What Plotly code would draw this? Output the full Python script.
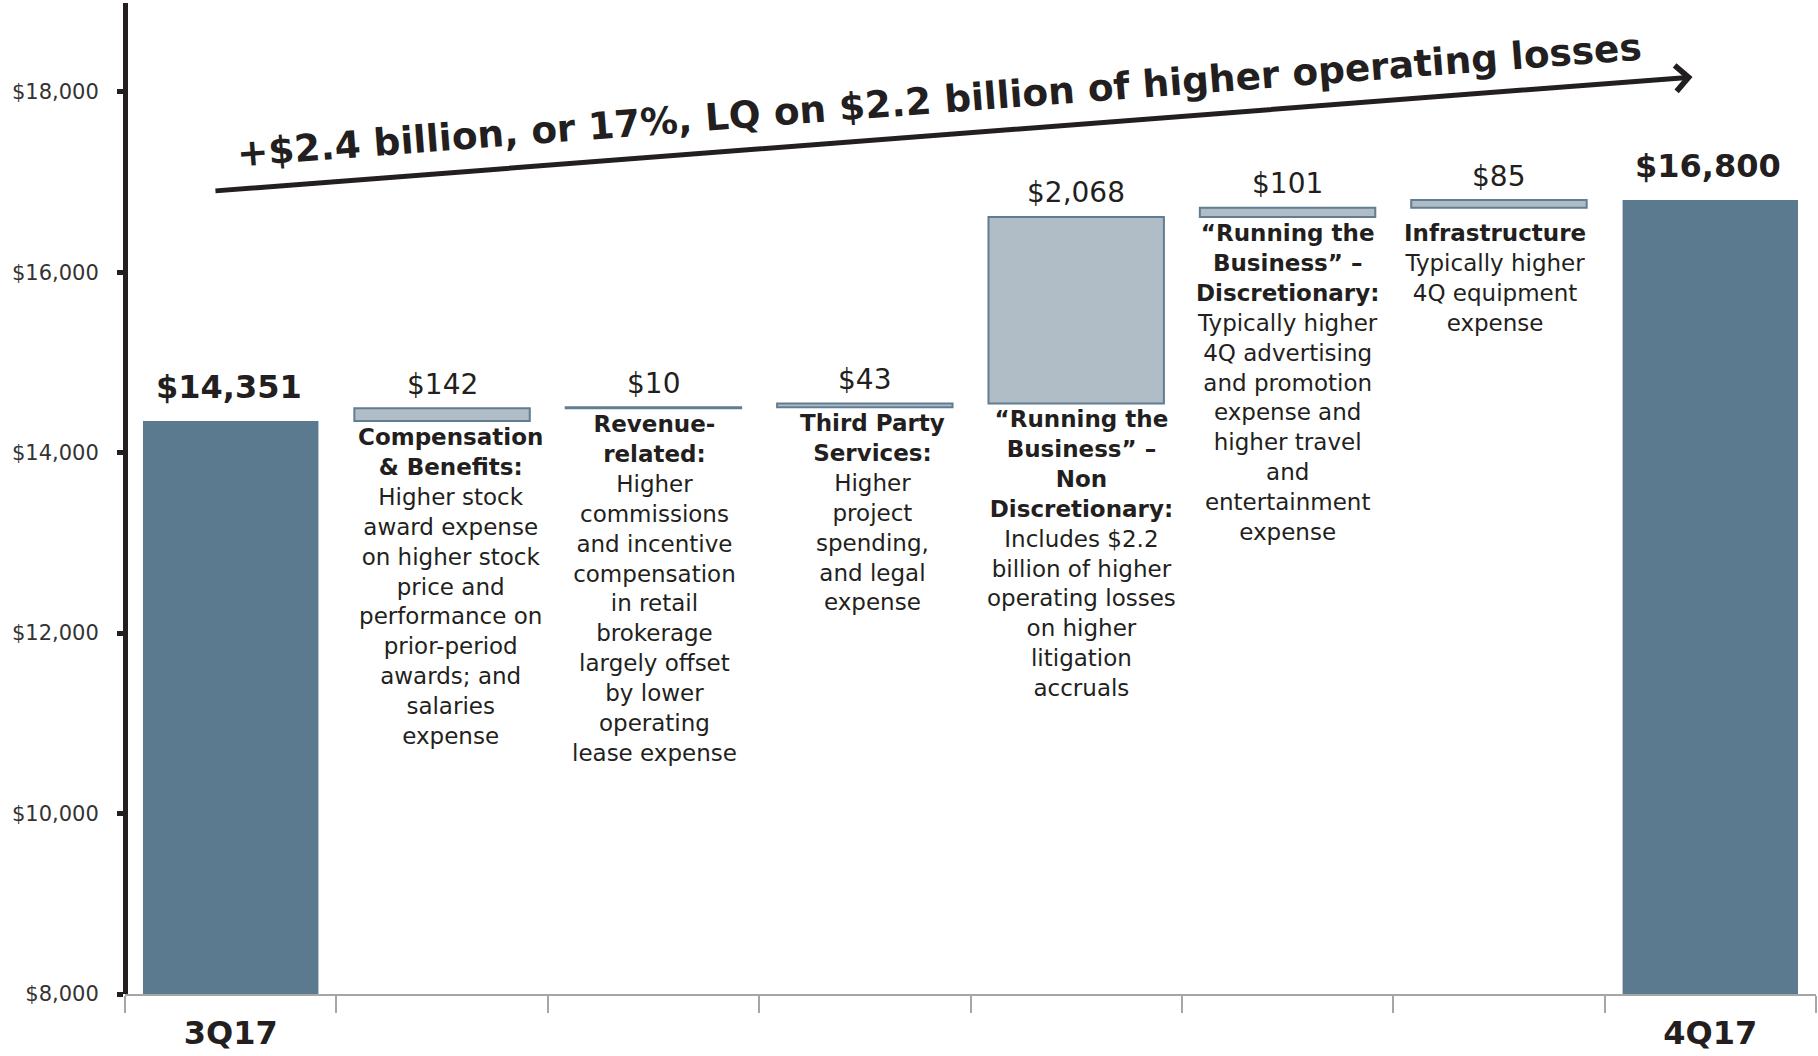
import plotly.graph_objects as go

# Quarter-over-quarter expense bridge, $ in millions
categories = [
    "3Q17",
    "Compensation & Benefits",
    "Revenue-related",
    "Third Party Services",
    "Running the Business - Non Discretionary",
    "Running the Business - Discretionary",
    "Infrastructure",
    "4Q17",
]
tick_labels = ["3Q17", "", "", "", "", "", "", "4Q17"]
start_value = 14351
changes = [142, 10, 43, 2068, 101, 85]

descriptions = [
    "<b>Compensation<br>&amp; Benefits:</b><br>Higher stock<br>award expense<br>on higher stock<br>price and<br>"
    "performance on<br>prior-period<br>awards; and<br>salaries<br>expense",
    "<b>Revenue-<br>related:</b><br>Higher<br>commissions<br>and incentive<br>compensation<br>in retail<br>"
    "brokerage<br>largely offset<br>by lower<br>operating<br>lease expense",
    "<b>Third Party<br>Services:</b><br>Higher<br>project<br>spending,<br>and legal<br>expense",
    "<b>“Running the<br>Business” –<br>Non<br>Discretionary:</b><br>Includes $2.2<br>billion of higher<br>"
    "operating losses<br>on higher<br>litigation<br>accruals",
    "<b>“Running the<br>Business” –<br>Discretionary:</b><br>Typically higher<br>4Q advertising<br>"
    "and promotion<br>expense and<br>higher travel<br>and<br>entertainment<br>expense",
    "<b>Infrastructure</b><br>Typically higher<br>4Q equipment<br>expense",
]
headline = "+$2.4 billion, or 17%, LQ on $2.2 billion of higher operating losses"

# styling
TEXT = "#231f20"
DARK = "#5c7a8f"
LIGHT = "#b0bdc7"
EDGE = "#607d91"
FONT = "DejaVu Sans"
desc_xshift = [8, 1, 8, 5, 0, -4]
desc_yshift = [0, 0, 0, 0, 0, -9]

y_values = [start_value] + changes + [0]
measures = ["absolute"] + ["relative"] * len(changes) + ["total"]

fig = go.Figure(
    go.Waterfall(
        x=categories,
        y=y_values,
        measure=measures,
        connector=dict(visible=False),
        increasing=dict(marker=dict(color=LIGHT, line=dict(color=EDGE, width=2))),
        totals=dict(marker=dict(color=DARK, line=dict(color=DARK, width=0))),
        hoverinfo="skip",
        textinfo="none",
    )
)

annotations = []

# running totals for label placement
running = [start_value]
for c in changes:
    running.append(running[-1] + c)
end_value = running[-1]

# total labels
for cat, val in ((categories[0], start_value), (categories[-1], end_value)):
    annotations.append(dict(
        x=cat, y=val, xref="x", yref="y", text=f"<b>${val:,.0f}</b>",
        showarrow=False, yanchor="middle", yshift=34, xshift=-2,
        font=dict(family=FONT, size=32, color=TEXT),
    ))

# change labels and descriptions
for i, c in enumerate(changes):
    cat = categories[i + 1]
    base = running[i]
    top = running[i + 1]
    annotations.append(dict(
        x=cat, y=top, xref="x", yref="y", text=f"${c:,.0f}",
        showarrow=False, yanchor="middle", yshift=24,
        font=dict(family=FONT, size=28, color=TEXT),
    ))
    annotations.append(dict(
        x=cat, y=base, xref="x", yref="y", text=descriptions[i],
        showarrow=False, yanchor="top", xanchor="center", align="center",
        xshift=desc_xshift[i], yshift=desc_yshift[i] - 1,
        font=dict(family=FONT, size=23, color=TEXT),
    ))

# headline arrow
annotations.append(dict(
    xref="x domain", yref="y domain", axref="x domain", ayref="y domain",
    x=0.9270, y=0.9253, ax=0.0526, ay=0.8103,
    text="", showarrow=True, arrowhead=4, arrowsize=1.0, arrowwidth=5,
    arrowcolor=TEXT, standoff=0,
))
annotations.append(dict(
    xref="x domain", yref="y domain", x=0.4815, y=0.902,
    text=f"<b>{headline}</b>", showarrow=False, textangle=-4.35,
    xanchor="center", yanchor="middle",
    font=dict(family=FONT, size=37.5, color=TEXT),
))

fig.update_layout(
    width=1818, height=1056,
    margin=dict(l=125, r=2, t=3, b=62),
    paper_bgcolor="white", plot_bgcolor="white",
    showlegend=False,
    font=dict(family=FONT, color=TEXT),
    waterfallgap=0.17,
    annotations=annotations,
    xaxis=dict(
        type="category",
        domain=[0, 1],
        tickmode="array", tickvals=categories, ticktext=tick_labels,
        tickson="boundaries",
        ticks="outside", ticklen=17, tickwidth=1.5, tickcolor="#a6a6a6",
        showline=True, linecolor="#a6a6a6", linewidth=2,
        showgrid=False, zeroline=False,
        ticklabelstandoff=10,
        tickfont=dict(family=FONT, size=32, color=TEXT, weight="bold"),
        fixedrange=True,
    ),
    yaxis=dict(
        anchor="free", position=0,
        range=[8000, 18985],
        tick0=8000, dtick=2000, tickformat="$,.0f",
        ticks="outside", ticklen=6, tickwidth=5, tickcolor=TEXT,
        showline=True, linecolor=TEXT, linewidth=5,
        showgrid=False, zeroline=False,
        ticklabelstandoff=14,
        tickfont=dict(family=FONT, size=21, color="#333333"),
        fixedrange=True,
    ),
)

fig.write_html("out.html")
